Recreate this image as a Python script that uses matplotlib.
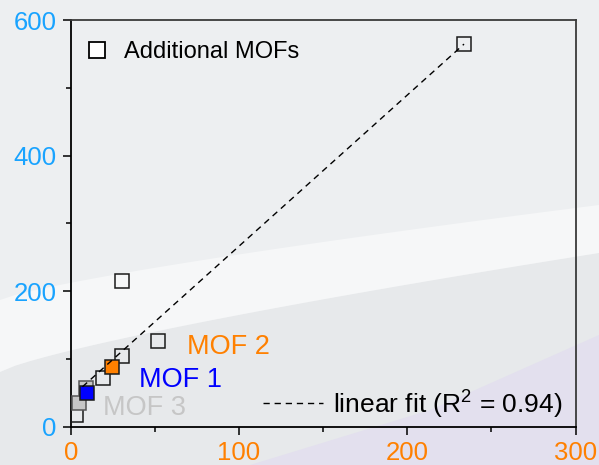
import numpy as np
import matplotlib.pyplot as plt
from matplotlib.lines import Line2D
from matplotlib.patches import Polygon

plt.rcParams['font.family'] = ['Liberation Sans', 'DejaVu Sans']

# additional MOFs (open squares)
extra_x = [233.7, 30.6, 51.7, 30.6, 19.3, 2.9]
extra_y = [564.6, 215.4, 126.9, 104.3, 71.4, 17.3]

# highlighted MOFs
mof1_x, mof1_y = [9.7], [50.0]
mof2_x, mof2_y = [24.7], [88.5]
mof3_x, mof3_y = [5.0, 9.2], [35.4, 56.5]

# linear fit
fit_slope = 2.23
fit_intercept = 43.3
fit_range = [7.0, 233.7]
fit_r2 = 0.94

orange = '#FF8000'
blue = '#0000FF'
grey = '#C6C6C6'
sky = '#19A3FF'

W, H = 599, 465
fig = plt.figure(figsize=(W / 100, H / 100), dpi=100)
fig.patch.set_facecolor('#EDEFF1')


def px(points):
    return [(x / W, 1 - y / H) for x, y in points]


# soft background swoosh
xs = np.linspace(0, W, 40)
t = (xs / W) ** 0.8
upper = 300 - 95 * t
lower = 372 - 119 * t
bottom = list(zip(xs, lower)) + [(W, H), (0, H)]
fig.patches.append(Polygon(px(bottom), closed=True, transform=fig.transFigure,
                           facecolor='#E7E9EB', edgecolor='none', zorder=-10))
band = list(zip(xs, upper)) + list(zip(xs[::-1], lower[::-1]))
fig.patches.append(Polygon(px(band), closed=True, transform=fig.transFigure,
                           facecolor='white', alpha=0.5, edgecolor='none', zorder=-9))
lav = [(W, 335), (W, H), (250, H), (430, 410)]
fig.patches.append(Polygon(px(lav), closed=True, transform=fig.transFigure,
                           facecolor='#E3E0EE', edgecolor='none', zorder=-8))

ax = fig.add_axes([70.7 / W, 1 - 426.7 / H, (575.6 - 70.7) / W, (426.7 - 20) / H])
ax.patch.set_alpha(0)
ax.set_zorder(1)

ms = 10.5
ax.plot(extra_x, extra_y, 's', ms=ms, mfc='none', mec='#1a1a1a', mew=1.1, zorder=3)
ax.plot(mof3_x, mof3_y, 's', ms=ms, mfc=grey, mec='#555555', mew=1.1, zorder=4)
ax.plot(mof1_x, mof1_y, 's', ms=ms, mfc=blue, mec='#1a1a1a', mew=1.1, zorder=5)
ax.plot(mof2_x, mof2_y, 's', ms=ms, mfc=orange, mec='#1a1a1a', mew=1.1, zorder=5)

fx = np.array(fit_range)
ax.plot(fx, fit_slope * fx + fit_intercept, color='black', lw=1.0,
        dashes=(4.5, 3.5), zorder=6)

ax.text(69.1, 117.6, 'MOF 2', color=orange, fontsize=19.5, va='center', ha='left')
ax.text(40.6, 68.9, 'MOF 1', color=blue, fontsize=19.5, va='center', ha='left')
ax.text(19.2, 27.6, 'MOF 3', color=grey, fontsize=19.5, va='center', ha='left')

ax.set_xlim(0, 300)
ax.set_ylim(0, 600)
ax.set_xticks([0, 100, 200, 300])
ax.set_xticks([50, 150, 250], minor=True)
ax.set_yticks([0, 200, 400, 600])
ax.set_yticks([100, 300, 500], minor=True)
ax.tick_params(which='major', direction='out', length=5.8, width=1.1, pad=4.5, labelsize=18.5)
ax.tick_params(which='minor', direction='out', length=3.5, width=1.1)
ax.tick_params(axis='x', labelcolor=orange)
ax.tick_params(axis='y', labelcolor=sky)

for side in ['left', 'bottom']:
    ax.spines[side].set_color('black')
    ax.spines[side].set_linewidth(1.3)
for side in ['top', 'right']:
    ax.spines[side].set_color('#3a3a3a')
    ax.spines[side].set_linewidth(1.3)

h1 = Line2D([], [], ls='none', marker='s', ms=11.5, mfc='white', mec='black', mew=1.3)
leg1 = ax.legend([h1], ['Additional MOFs'], loc='upper left', frameon=False,
                 fontsize=17, handlelength=0.43, handletextpad=0.93)
ax.add_artist(leg1)

h2 = Line2D([], [], color='black', lw=1.0, dashes=(4.5, 3.5))
ax.legend([h2], ['linear fit (R$^{\\mathregular{2}}$ = %.2f)' % fit_r2], loc='lower right',
          bbox_to_anchor=(1.0, -0.015), frameon=False, fontsize=19,
          handlelength=2.27, handletextpad=0.38, borderaxespad=0.1)

fig.savefig('out.png', dpi=100, facecolor=fig.get_facecolor())
